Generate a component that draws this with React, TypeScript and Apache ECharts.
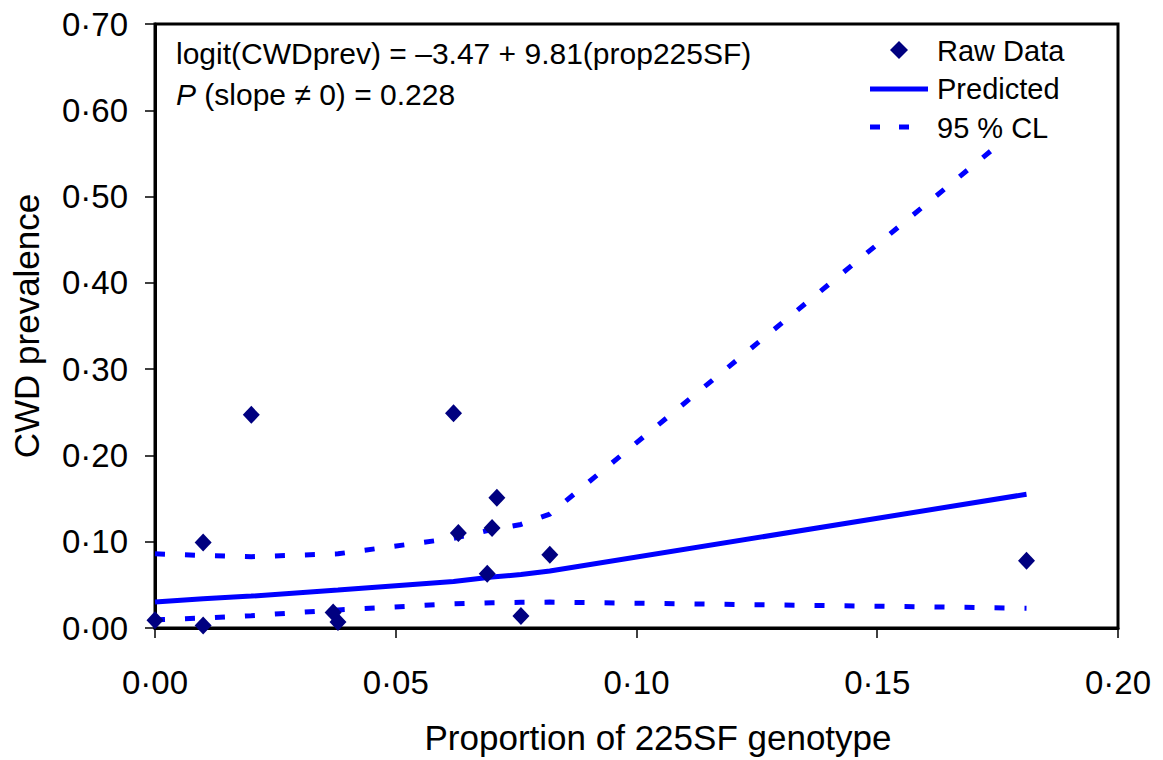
import React, { useEffect, useRef } from "react";
import * as echarts from "echarts";

// Raw observations
const rawX = [0.0, 0.01, 0.01, 0.02, 0.037, 0.038, 0.062, 0.063, 0.069, 0.07, 0.071, 0.076, 0.082, 0.181];
const rawY = [0.009, 0.099, 0.003, 0.247, 0.018, 0.007, 0.249, 0.11, 0.063, 0.116, 0.151, 0.014, 0.085, 0.078];

// Fitted curve and confidence limits, read at the observed x values
const fitX = [0.0, 0.01, 0.02, 0.038, 0.062, 0.07, 0.076, 0.082, 0.181];
const predictedY = [0.03, 0.034, 0.037, 0.044, 0.054, 0.059, 0.062, 0.066, 0.155];
const upperY = [0.086, 0.084, 0.0826, 0.086, 0.104, 0.114, 0.12, 0.132, 0.587];
const lowerY = [0.0095, 0.0115, 0.0143, 0.021, 0.028, 0.0293, 0.0297, 0.03, 0.023];

const xTicks = { min: 0, max: 0.2, interval: 0.05 };
const yTicks = { min: 0, max: 0.7, interval: 0.1 };

const seriesNames = ["Raw Data", "Predicted", "95 % CL"];
const equationLine1 = "logit(CWDprev) = \u20133.47 + 9.81(prop225SF)";
const equationLine2 = "{i|P} (slope \u2260 0) = 0.228";
const xTitle = "Proportion of 225SF genotype";
const yTitle = "CWD prevalence";

const FONT = "'Liberation Sans', Arial, sans-serif";
const NAVY = "#000080";
const BLUE = "#0000ff";
const fmt = (v: number) => v.toFixed(2).replace(".", "\u00b7");

export default function App() {
  const ref = useRef<HTMLDivElement>(null);
  useEffect(() => {
    if (!ref.current) return;
    const chart = echarts.init(ref.current, undefined, { renderer: "svg" });
    const pair = (xs: number[], ys: number[]) => xs.map((x, i) => [x, ys[i]]);
    const dashed = { color: BLUE, width: 5, type: [10, 20] as number[] };
    const legendText = (text: string, y: number) => ({
      type: "text",
      x: 937,
      y,
      z: 22,
      style: { text, fontSize: 29, fill: "#000", fontFamily: FONT, verticalAlign: "middle", align: "left" },
    });
    chart.setOption({
      animation: false,
      backgroundColor: "#ffffff",
      textStyle: { fontFamily: FONT },
      grid: {
        left: 155,
        top: 24,
        width: 963,
        height: 604,
        show: true,
        borderColor: "#000",
        borderWidth: 3,
        backgroundColor: "transparent",
      },
      xAxis: {
        type: "value",
        min: xTicks.min,
        max: xTicks.max,
        interval: xTicks.interval,
        splitLine: { show: false },
        axisLine: { show: true, onZero: false, lineStyle: { color: "#000", width: 3 } },
        axisTick: { show: true, length: 10, lineStyle: { color: "#000", width: 1.5 } },
        axisLabel: { formatter: fmt, fontSize: 33, color: "#000", margin: 38, fontFamily: FONT },
        name: xTitle,
        nameLocation: "middle",
        nameGap: 92,
        nameTextStyle: { fontSize: 35, color: "#000", fontFamily: FONT, padding: [0, 0, 0, 43] },
      },
      yAxis: {
        type: "value",
        min: yTicks.min,
        max: yTicks.max,
        interval: yTicks.interval,
        splitLine: { show: false },
        axisLine: { show: true, onZero: false, lineStyle: { color: "#000", width: 3 } },
        axisTick: { show: true, length: 10, lineStyle: { color: "#000", width: 1.5 } },
        axisLabel: { formatter: fmt, fontSize: 33, color: "#000", margin: 27, fontFamily: FONT },
        name: yTitle,
        nameLocation: "middle",
        nameGap: 111,
        nameTextStyle: { fontSize: 35, color: "#000", fontFamily: FONT },
      },
      graphic: [
        {
          type: "text",
          x: 176,
          y: 53,
          z: 10,
          style: { text: equationLine1, fontSize: 30, fill: "#000", fontFamily: FONT, verticalAlign: "middle" },
        },
        {
          type: "text",
          x: 176,
          y: 94,
          z: 10,
          style: {
            text: equationLine2,
            fontSize: 30,
            fill: "#000",
            fontFamily: FONT,
            verticalAlign: "middle",
            rich: { i: { fontStyle: "italic", fontSize: 30, fontFamily: FONT } },
          },
        },
        // legend box (white, hides the upper limit line beneath it)
        {
          type: "rect",
          z: 20,
          shape: { x: 860, y: 27, width: 254, height: 121 },
          style: { fill: "#ffffff", stroke: "none" },
        },
        {
          type: "polygon",
          z: 21,
          shape: { points: [[899, 41], [908, 50], [899, 59], [890, 50]] },
          style: { fill: NAVY },
        },
        {
          type: "line",
          z: 21,
          shape: { x1: 870, y1: 89, x2: 928, y2: 89 },
          style: { stroke: BLUE, lineWidth: 5 },
        },
        {
          type: "line",
          z: 21,
          shape: { x1: 870, y1: 127, x2: 910, y2: 127 },
          style: { stroke: BLUE, lineWidth: 5, lineDash: [10, 19] },
        },
        legendText(seriesNames[0], 51),
        legendText(seriesNames[1], 89),
        legendText(seriesNames[2], 128),
      ],
      series: [
        {
          name: seriesNames[0],
          type: "scatter",
          symbol: "diamond",
          symbolSize: [17, 18],
          itemStyle: { color: NAVY, opacity: 1 },
          data: pair(rawX, rawY),
          z: 5,
        },
        {
          name: seriesNames[1],
          type: "line",
          symbol: "none",
          lineStyle: { color: BLUE, width: 5 },
          itemStyle: { color: BLUE },
          data: pair(fitX, predictedY),
          z: 3,
        },
        {
          name: seriesNames[2],
          type: "line",
          symbol: "none",
          lineStyle: dashed,
          itemStyle: { color: BLUE },
          data: pair(fitX, upperY),
          z: 3,
        },
        {
          name: seriesNames[2] + " (lower)",
          type: "line",
          symbol: "none",
          lineStyle: dashed,
          itemStyle: { color: BLUE },
          data: pair(fitX, lowerY),
          z: 3,
        },
      ],
    });
    return () => chart.dispose();
  }, []);
  return (
    <div
      ref={ref}
      style={{ position: "fixed", left: 0, top: 0, width: 1163, height: 760, background: "#fff" }}
    />
  );
}
